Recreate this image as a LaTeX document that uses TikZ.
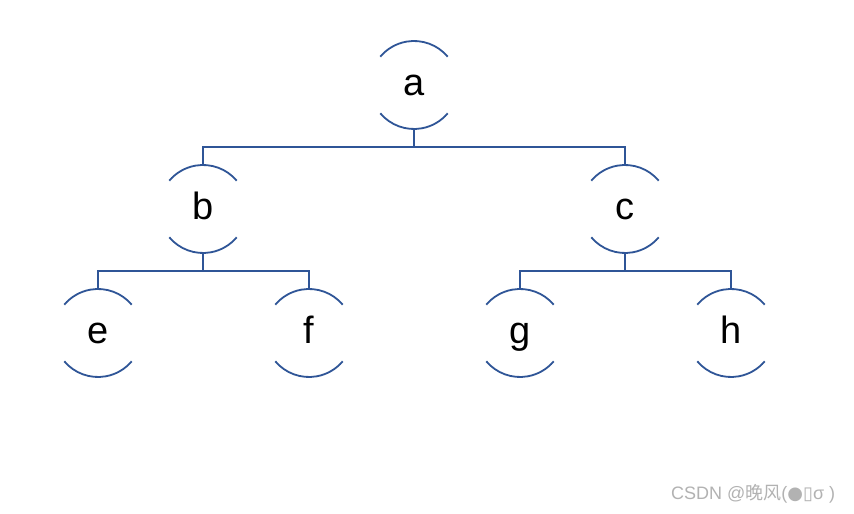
\documentclass[tikz,border=0pt]{standalone}
\usepackage{fontspec}
\setmainfont{Liberation Sans}
\newfontfamily\cjk{Noto Sans CJK SC}
\newfontfamily\symb{DejaVu Sans}
\definecolor{treeblue}{RGB}{47,85,151}
\definecolor{markgray}{RGB}{178,178,178}

\begin{document}
\begin{tikzpicture}[x=1pt,y=1pt]
\tikzstyle{every node}+=[inner sep=0pt]
\tikzstyle{leaf}=[circle,minimum size=88pt,outer sep=0pt,text height=30pt,text depth=8pt,font=\fontsize{38}{40}\selectfont]
\tikzstyle{treeline}=[treeblue,line width=1.8pt]
\useasboundingbox (0,0) rectangle (854,514);
\fill [white] (0,0) rectangle (854,514);
\node [leaf] (a) at (414,429) {a};
\node [leaf] (b) at (203,305) {b};
\node [leaf] (c) at (625,305) {c};
\node [leaf] (e) at (98,181) {e};
\node [leaf] (f) at (309,181) {f};
\node [leaf] (g) at (520,181) {g};
\node [leaf] (h) at (731,181) {h};
\foreach \n in {a,b,c,e,f,g,h} {
  \draw [treeline] (\n.40) arc (40:140:44pt);
  \draw [treeline] (\n.220) arc (220:320:44pt);
}
\draw [treeline] (a.south) -- ++(0,-18) -| (b.north);
\draw [treeline] (a.south) -- ++(0,-18) -| (c.north);
\draw [treeline] (b.south) -- ++(0,-18) -| (e.north);
\draw [treeline] (b.south) -- ++(0,-18) -| (f.north);
\draw [treeline] (c.south) -- ++(0,-18) -| (g.north);
\draw [treeline] (c.south) -- ++(0,-18) -| (h.north);
\node [anchor=west,text=markgray,font=\fontsize{18}{19}\selectfont] (mark) at (671,20)
  {CSDN @{\cjk 晚风}({\symb ●▯}σ )};
\end{tikzpicture}
\end{document}
